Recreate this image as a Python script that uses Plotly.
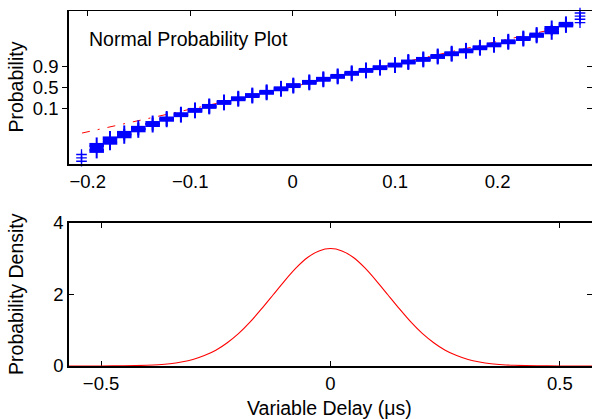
import plotly.graph_objects as go

# ---------------- data ----------------
# Top panel: normal probability plot, clusters of '+' markers
cluster_delay = [-0.1912, -0.1782, -0.1643, -0.1506, -0.1366, -0.1229, -0.1090, -0.0953,
                 -0.0814, -0.0670, -0.0531, -0.0394, -0.0254, -0.0114, 0.0006, 0.0162,
                 0.0299, 0.0439, 0.0576, 0.0715, 0.0852, 0.0998, 0.1128, 0.1274,
                 0.1415, 0.1551, 0.1691, 0.1827, 0.1964, 0.2103, 0.2250, 0.2380,
                 0.2527, 0.2666]
cluster_prob = [0.106, 0.154, 0.193, 0.229, 0.262, 0.294, 0.323, 0.351,
                0.377, 0.403, 0.427, 0.448, 0.469, 0.492, 0.513, 0.534,
                0.554, 0.573, 0.593, 0.612, 0.630, 0.647, 0.667, 0.684,
                0.703, 0.721, 0.740, 0.760, 0.779, 0.799, 0.820, 0.842,
                0.875, 0.911]
cluster_spread = [0.0195, 0.014, 0.011, 0.008, 0.0065, 0.004, 0.003, 0.003,
                  0.003, 0.003, 0.003, 0.003, 0.003, 0.003, 0.003, 0.003,
                  0.003, 0.003, 0.003, 0.003, 0.003, 0.003, 0.003, 0.003,
                  0.003, 0.003, 0.003, 0.003, 0.003, 0.003, 0.003, 0.004,
                  0.014, 0.005]
# sparse extreme points (single '+' each)
tail_delay = [-0.206, -0.206, -0.206, 0.2803, 0.2803, 0.2803, 0.2803]
tail_prob = [0.019, 0.041, 0.063, 0.924, 0.946, 0.966, 0.987]
# fitted reference line end points
ref_delay = [-0.2055, 0.2807]
ref_prob = [0.203, 0.920]
prob_tick_pos = [0.364, 0.5, 0.636]
prob_tick_text = ["0.1", "0.5", "0.9"]
top_x_ticks = [-0.2, -0.1, 0, 0.1, 0.2]

# Bottom panel: probability density
pdf_x = [-0.57, -0.55, -0.50, -0.45, -0.40, -0.375, -0.35, -0.325, -0.30, -0.275, -0.25,
         -0.225, -0.20, -0.175, -0.15, -0.125, -0.10, -0.075, -0.05, -0.025,
         0.0, 0.025, 0.05, 0.075, 0.10, 0.125, 0.15, 0.175, 0.20, 0.225, 0.25,
         0.275, 0.30, 0.325, 0.35, 0.375, 0.40, 0.45, 0.50, 0.55, 0.57]
pdf_y = [0.0, 0.0, 0.001, 0.005, 0.02, 0.036, 0.065, 0.112, 0.18, 0.29, 0.44,
         0.65, 0.91, 1.23, 1.60, 1.99, 2.38, 2.74, 3.03, 3.215,
         3.28, 3.215, 3.03, 2.74, 2.38, 1.99, 1.60, 1.23, 0.91, 0.65, 0.44,
         0.29, 0.18, 0.112, 0.065, 0.036, 0.02, 0.005, 0.001, 0.0, 0.0]
bottom_x_ticks = [-0.5, 0, 0.5]
bottom_y_ticks = [0, 2, 4]

BLUE = "rgb(0,0,255)"
RED = "rgb(255,0,0)"
FONT = "Liberation Sans, Arial, Helvetica, sans-serif"

# ---------------- figure ----------------
fig = go.Figure()

# reference line
fig.add_trace(go.Scatter(x=ref_delay, y=ref_prob, mode="lines", xaxis="x", yaxis="y",
                         line=dict(color=RED, width=1, dash="8px,8px,2px,8px"),
                         hoverinfo="skip"))

# cluster spread (vertical thick segments)
seg_x, seg_y = [], []
lo, hi = [], []
for xc, yc, s in zip(cluster_delay, cluster_prob, cluster_spread):
    seg_x += [xc, xc, None]
    seg_y += [yc - s, yc + s, None]
    lo.append(yc - s)
    hi.append(yc + s)
fig.add_trace(go.Scatter(x=seg_x, y=seg_y, mode="lines", xaxis="x", yaxis="y",
                         line=dict(color=BLUE, width=14), hoverinfo="skip"))
both_x = cluster_delay + cluster_delay
both_y = lo + hi
fig.add_trace(go.Scatter(x=both_x, y=both_y, mode="markers", xaxis="x", yaxis="y",
                         cliponaxis=False,
                         marker=dict(symbol="line-ns", size=10.7, color=BLUE,
                                     line=dict(color=BLUE, width=2))))
fig.add_trace(go.Scatter(x=both_x, y=both_y, mode="markers", xaxis="x", yaxis="y",
                         cliponaxis=False,
                         marker=dict(symbol="line-ew", size=10.4, color=BLUE,
                                     line=dict(color=BLUE, width=4))))
fig.add_trace(go.Scatter(x=tail_delay, y=tail_prob, mode="markers", xaxis="x", yaxis="y",
                         cliponaxis=False,
                         marker=dict(symbol="cross-thin", size=7.6, color=BLUE,
                                     line=dict(color=BLUE, width=1.3))))

# empty traces to bind the overlay axes
fig.add_trace(go.Scatter(x=[], y=[], xaxis="x3", yaxis="y", hoverinfo="skip"))
fig.add_trace(go.Scatter(x=[], y=[], xaxis="x", yaxis="y3", hoverinfo="skip"))
fig.add_trace(go.Scatter(x=[], y=[], xaxis="x2", yaxis="y4", hoverinfo="skip"))

# density curve
fig.add_trace(go.Scatter(x=pdf_x, y=pdf_y, mode="lines", xaxis="x2", yaxis="y2",
                         line=dict(color=RED, width=1.1, shape="spline", smoothing=0.6),
                         hoverinfo="skip"))

top_rng = [-0.2182, 0.292]
bot_rng = [-0.57, 0.57]
common = dict(showgrid=False, zeroline=False, linecolor="black", tickcolor="black",
              tickfont=dict(family=FONT, size=18.5, color="black"))

fig.update_layout(
    width=592, height=419,
    margin=dict(l=69, r=0, t=9, b=53),
    paper_bgcolor="white", plot_bgcolor="white",
    showlegend=False,
    font=dict(family=FONT, color="black"),
    xaxis=dict(domain=[0, 1], anchor="y", range=top_rng, tickvals=top_x_ticks,
               ticks="", showline=True, linewidth=1.5, **common),
    xaxis3=dict(overlaying="x", anchor="y", side="top", range=top_rng, tickvals=top_x_ticks,
                ticks="inside", ticklen=5, tickwidth=1, showticklabels=False,
                showline=True, linewidth=1, **common),
    yaxis=dict(domain=[0.5686, 1], anchor="x", range=[0, 1], tickvals=prob_tick_pos,
               ticktext=prob_tick_text, ticks="outside", ticklen=5, tickwidth=1,
               showline=True, linewidth=1.5, **common),
    yaxis3=dict(overlaying="y", anchor="x", side="right", range=[0, 1], tickvals=prob_tick_pos,
                ticks="inside", ticklen=5, tickwidth=1, showticklabels=False,
                showline=False, **common),
    xaxis2=dict(domain=[0, 1], anchor="y2", range=bot_rng, tickvals=bottom_x_ticks,
                ticks="inside", ticklen=5, tickwidth=1, showline=True, linewidth=1.5,
                mirror="ticks", layer="below traces", **common),
    yaxis2=dict(domain=[0, 0.4034], anchor="x2", range=[0, 4], tickvals=bottom_y_ticks,
                ticks="inside", ticklen=5, tickwidth=1, showline=True, linewidth=1.5,
                **common),
    yaxis4=dict(overlaying="y2", anchor="x2", side="right", range=[0, 4],
                tickvals=bottom_y_ticks, ticks="inside", ticklen=5, tickwidth=1,
                showticklabels=False, showline=False, **common),
)

txt = dict(family=FONT, size=19.5, color="black")
fig.add_annotation(text="Normal Probability Plot", xref="paper", yref="paper",
                   x=0.0344, y=0.9216, xanchor="left", yanchor="middle",
                   showarrow=False, font=txt)
fig.add_annotation(text="Probability", xref="paper", yref="paper",
                   x=-0.1013, y=0.7843, xanchor="center", yanchor="middle",
                   textangle=-90, showarrow=False, font=txt)
fig.add_annotation(text="Probability Density", xref="paper", yref="paper",
                   x=-0.1013, y=0.203, xanchor="center", yanchor="middle",
                   textangle=-90, showarrow=False, font=txt)
fig.add_annotation(text="Variable Delay (μs)", xref="paper", yref="paper",
                   x=0.499, y=-0.1176, xanchor="center", yanchor="middle",
                   showarrow=False, font=txt)

fig.write_html("out.html")
